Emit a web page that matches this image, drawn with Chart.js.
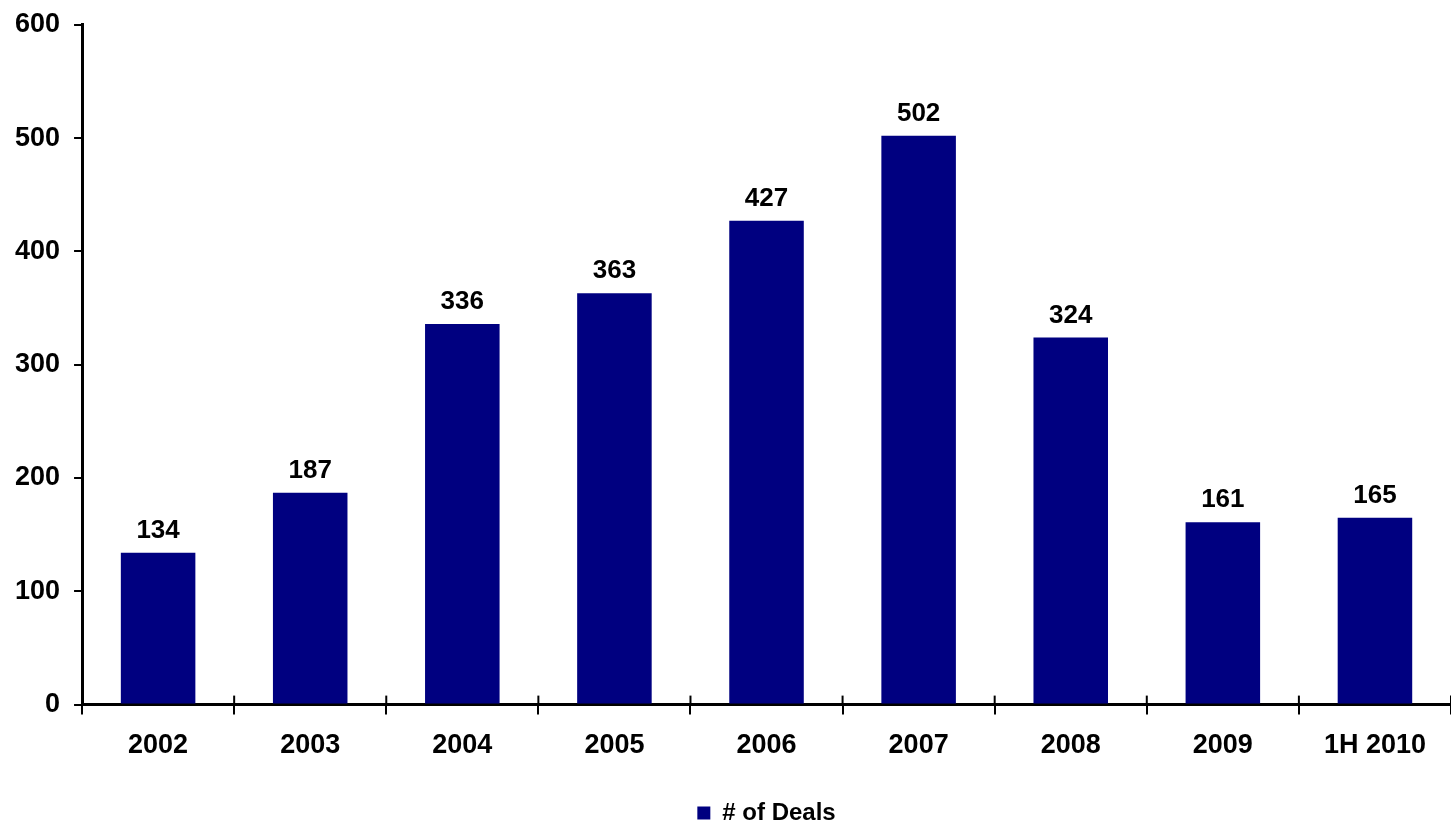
<!DOCTYPE html>
<html lang="en">
<head>
    <meta charset="UTF-8">
    <title>Number of Deals</title>
    <script src="https://cdn.jsdelivr.net/npm/chart.js"></script>
    <style>
        body { margin: 0; background: #fff; }
        #wrap { width: 1451px; height: 826px; position: relative; }
    </style>
</head>
<body>
    <div id="wrap">
        <canvas id="myChart"></canvas>
    </div>
    <script>
        const years = ['2002', '2003', '2004', '2005', '2006', '2007', '2008', '2009', '1H 2010'];
        const deals = [134, 187, 336, 363, 427, 502, 324, 161, 165];
        const seriesName = '# of Deals';

        const fontFamily = '"Liberation Sans", Arial, sans-serif';

        // value labels above bars + inward half of the x-axis tick marks
        const extras = {
            id: 'extras',
            afterDatasetsDraw(chart) {
                const ctx = chart.ctx;
                const meta = chart.getDatasetMeta(0);
                ctx.save();
                ctx.fillStyle = '#000';
                ctx.font = 'bold 26px ' + fontFamily;
                ctx.textAlign = 'center';
                ctx.textBaseline = 'bottom';
                meta.data.forEach(function(bar, i) {
                    ctx.fillText(deals[i], bar.x, bar.y - 9);
                });

                const x = chart.scales.x;
                const y0 = chart.scales.y.getPixelForValue(0);
                const half = (x.getPixelForTick(1) - x.getPixelForTick(0)) / 2;
                ctx.strokeStyle = '#000';
                ctx.lineWidth = 2;
                for (let i = 0; i <= years.length; i++) {
                    const px = x.getPixelForTick(0) - half + i * half * 2;
                    ctx.beginPath();
                    ctx.moveTo(px, y0);
                    ctx.lineTo(px, y0 - 9);
                    ctx.stroke();
                }
                ctx.restore();
            }
        };

        const ctx = document.getElementById('myChart').getContext('2d');
        const myChart = new Chart(ctx, {
            type: 'bar',
            data: {
                labels: years,
                datasets: [{
                    label: seriesName,
                    data: deals,
                    backgroundColor: '#000080',
                    borderWidth: 0,
                    categoryPercentage: 1,
                    barPercentage: 0.49
                }]
            },
            options: {
                responsive: true,
                maintainAspectRatio: false,
                animation: false,
                layout: {
                    padding: { top: 0, right: 0, left: 1, bottom: -9 }
                },
                plugins: {
                    legend: {
                        position: 'bottom',
                        fullSize: false,
                        labels: {
                            boxWidth: 13,
                            boxHeight: 13,
                            padding: 0,
                            color: '#000',
                            font: { family: fontFamily, size: 24, weight: 'bold' }
                        }
                    },
                    tooltip: { enabled: false }
                },
                scales: {
                    x: {
                        afterFit: function(scale) { scale.height += 24; },
                        grid: {
                            offset: true,
                            drawOnChartArea: false,
                            drawTicks: true,
                            tickLength: 10,
                            color: '#000',
                            lineWidth: 2
                        },
                        border: { display: true, color: '#000', width: 3 },
                        ticks: {
                            color: '#000',
                            padding: 15,
                            maxRotation: 0,
                            font: { family: fontFamily, size: 27, weight: 'bold' }
                        }
                    },
                    y: {
                        min: 0,
                        max: 600,
                        grid: {
                            drawOnChartArea: false,
                            drawTicks: true,
                            tickLength: 8,
                            color: '#000',
                            lineWidth: 2
                        },
                        border: { display: true, color: '#000', width: 3 },
                        ticks: {
                            stepSize: 100,
                            color: '#000',
                            padding: 14,
                            font: { family: fontFamily, size: 27, weight: 'bold', lineHeight: 0.8 }
                        }
                    }
                }
            },
            plugins: [extras]
        });
    </script>
</body>
</html>
